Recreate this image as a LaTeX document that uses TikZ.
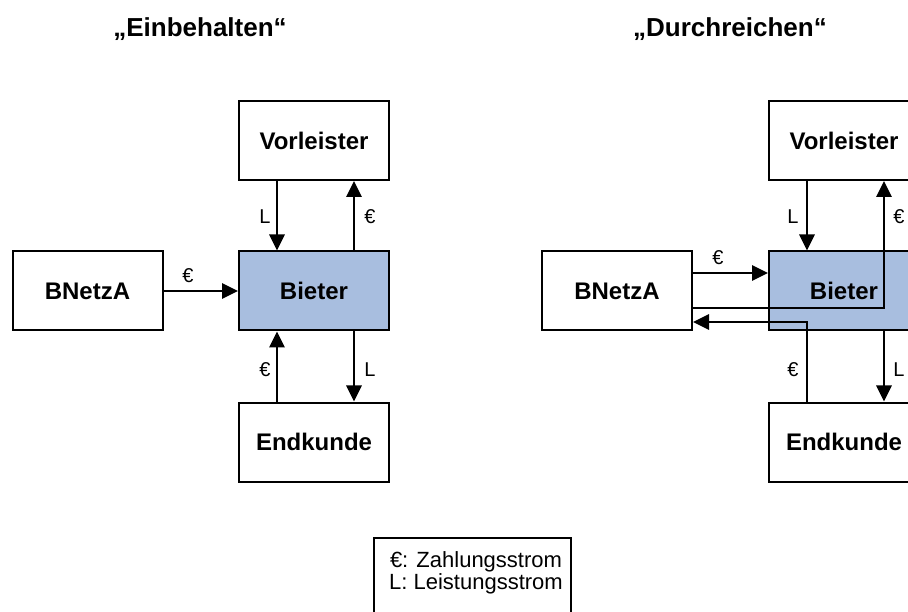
\documentclass[tikz,border=0pt]{standalone}
\usepackage{fontspec}
\setmainfont{Liberation Sans}
\usetikzlibrary{arrows.meta,calc}
\definecolor{bieterblue}{RGB}{168,190,223}
\begin{document}
\begin{tikzpicture}[x=1pt,y=-1pt,
  box/.style={draw=black, line width=2pt, fill=white, minimum width=150pt, minimum height=79pt, inner sep=0pt, font=\fontsize{24}{28}\selectfont\bfseries},
  bieterbox/.style={box, fill=bieterblue},
  flow/.style={line width=2.8pt, -{Triangle[length=16pt,width=15pt]}},
  lbl/.style={font=\fontsize{20}{24}\selectfont, inner sep=0pt},
  titletext/.style={font=\fontsize{26}{30}\selectfont\bfseries, anchor=base, inner sep=0pt}]
\useasboundingbox (0,0) rectangle (908,612);
\clip (0,0) rectangle (908,612);

% titles
\node[titletext] (t1) at (200,37) {„Einbehalten“};
\node[titletext] (t2) at (730,37) {„Durchreichen“};

% left diagram
\node[box] (N1) at (87.5,291) {BNetzA};
\node[bieterbox] (B1) at (314,291) {Bieter};
\node[box] (V1) at (314,140.5) {Vorleister};
\node[box] (E1) at (314,442) {Endkunde};

\draw[flow] ([xshift=-37pt]V1.south) -- ([xshift=-37pt]B1.north);
\draw[flow] ([xshift=40pt]B1.north) -- ([xshift=40pt]V1.south);
\draw[flow] (N1.east) -- (B1.west);
\draw[flow] ([xshift=-37pt]E1.north) -- ([xshift=-37pt]B1.south);
\draw[flow] ([xshift=40pt]B1.south) -- ([xshift=40pt]E1.north);

\node[lbl] (l1a) at (265,217) {L};
\node[lbl] (l1b) at (370,217) {€};
\node[lbl] (l1c) at (188,276) {€};
\node[lbl] (l1d) at (265,370) {€};
\node[lbl] (l1e) at (370,370) {L};

% right diagram
\node[box] (N2) at (617,291) {BNetzA};
\node[bieterbox] (B2) at (844,291) {Bieter};
\node[box] (V2) at (844,140.5) {Vorleister};
\node[box] (E2) at (844,442) {Endkunde};

\draw[flow] ([xshift=-37pt]V2.south) -- ([xshift=-37pt]B2.north);
\draw[flow] ([yshift=18pt]N2.east) -- ([yshift=18pt]B2.west);
\draw[flow] ([yshift=-17pt]N2.east) -| ([xshift=40pt]V2.south);
\draw[flow] ([xshift=-37pt]E2.north) |- ([yshift=-31pt]N2.east);
\draw[flow] ([xshift=40pt]B2.south) -- ([xshift=40pt]E2.north);

\node[lbl] (l2a) at (793,217) {L};
\node[lbl] (l2b) at (899,217) {€};
\node[lbl] (l2c) at (718,258) {€};
\node[lbl] (l2d) at (793,370) {€};
\node[lbl] (l2e) at (899,370) {L};

% legend
\node[draw=black, line width=1.3pt, minimum width=197pt, minimum height=78pt, inner sep=0pt] (leg) at (472.5,577) {};
\node[font=\fontsize{22}{22}\selectfont, align=center, inner sep=0pt] (legtxt) at (476,573) {€: Zahlungsstrom\\L: Leistungsstrom};
\end{tikzpicture}
\end{document}
